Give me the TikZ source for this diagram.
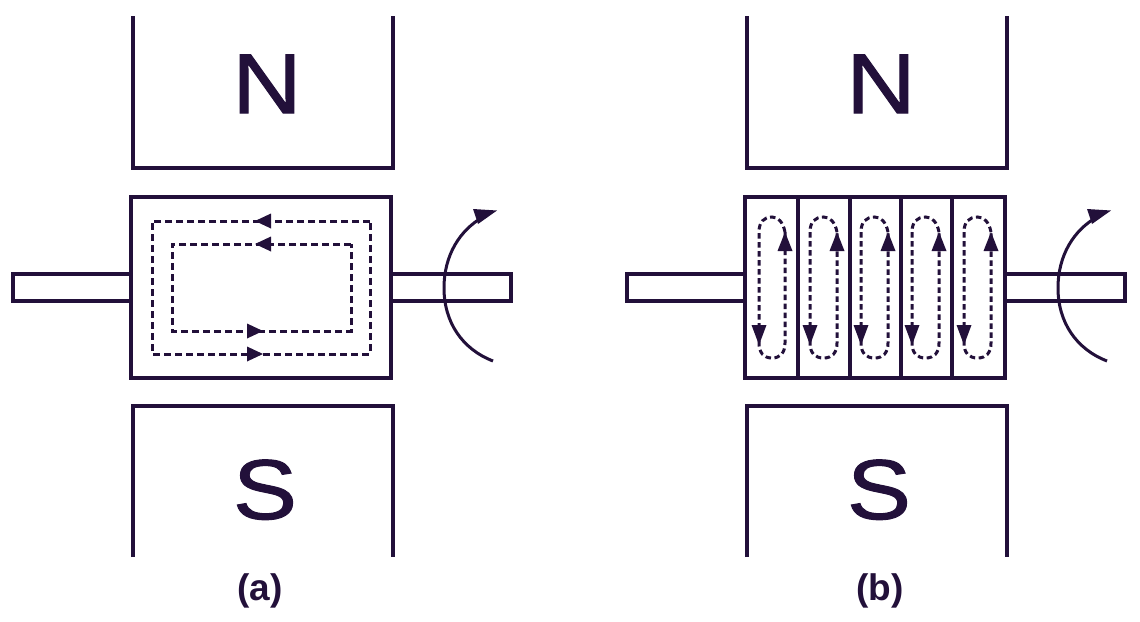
\documentclass[tikz,border=0pt]{standalone}
\usepackage{fontspec}
\setmainfont{Liberation Sans}
\newfontfamily\polefont[FakeStretch=1.13,FakeBold=1.2]{Liberation Sans}
\definecolor{ink}{HTML}{22103A}
\tikzset{
  solidline/.style={draw=ink,line width=3.2pt,line join=miter},
  flow/.style={draw=ink,line width=3pt,dash pattern=on 7pt off 4pt},
  head/.style={fill=ink,draw=none},
  pole/.style={text=ink,inner sep=0pt,font=\polefont\fontsize{85}{85}\selectfont},
  caption/.style={text=ink,inner sep=0pt,font=\fontsize{37}{37}\selectfont\bfseries}
}
\newcommand{\machine}[3]{%
  \draw[solidline] (133,16) -- (133,168) -- (393,168) -- (393,16);
  \draw[solidline] (133,557) -- (133,406) -- (393,406) -- (393,557);
  \draw[solidline] (131,274) -- (13,274) -- (13,301) -- (131,301);
  \draw[solidline] (391,274) -- (511,274) -- (511,301) -- (391,301);
  \draw[solidline] (131,197) rectangle (391,378);
  \draw[draw=ink,line width=3pt] (493,361) .. controls (462,349) and (444,322) .. (444,288)
     .. controls (444,255) and (460,230) .. (483,217);
  \fill[head] (497,210.5) -- (473,209) -- (478,224) -- cycle;
  \node[pole,anchor=base] (#1n) at (267,113) {N};
  \node[pole,anchor=base] (#1s) at (265,519) {S};
  \node[caption] (#1c) at (#3,590.5) {(#2)};
}
\begin{document}
\begin{tikzpicture}[x=1pt,y=-1pt]
\useasboundingbox (0,0) rectangle (1140,621);
\fill[white] (0,0) rectangle (1140,621);
% panel (a)
\machine{a}{a}{260}
\draw[flow] (370,221) -- (152,221) -- (152,354) -- (370,354) -- cycle;
\draw[flow] (351,244) -- (172,244) -- (172,331) -- (351,331) -- cycle;
\foreach \yy in {221,244} \fill[head] (255,\yy) -- (271,\yy-7.5) -- (271,\yy+7.5) -- cycle;
\foreach \yy in {331,354} \fill[head] (263,\yy) -- (247,\yy-7.5) -- (247,\yy+7.5) -- cycle;
% panel (b)
\begin{scope}[xshift=614pt]
\machine{b}{b}{266}
\end{scope}
\foreach \xx in {798,850,901,952} \draw[draw=ink,line width=3.2pt] (\xx,197) -- (\xx,378);
\foreach \xa/\xb in {759/785,810/837,861/888,912/939,964/991}{
  \draw[flow,dash pattern=on 5.5pt off 3.5pt] (\xb,232)
    .. controls (\xb-2,222) and (\xb-7,217) .. ({(\xa+\xb)/2},217)
    .. controls (\xa+5,217) and (\xa,222) .. (\xa,232) -- (\xa,343)
    .. controls (\xa,353) and (\xa+5,358) .. ({(\xa+\xb)/2},358)
    .. controls (\xb-5,358) and (\xb,353) .. (\xb,343) -- cycle;
  \fill[head] (\xb,232) -- (\xb-7.5,251) -- (\xb+7.5,251) -- cycle;
  \fill[head] (\xa,345) -- (\xa-7.5,325) -- (\xa+7.5,325) -- cycle;
}
\end{tikzpicture}
\end{document}
